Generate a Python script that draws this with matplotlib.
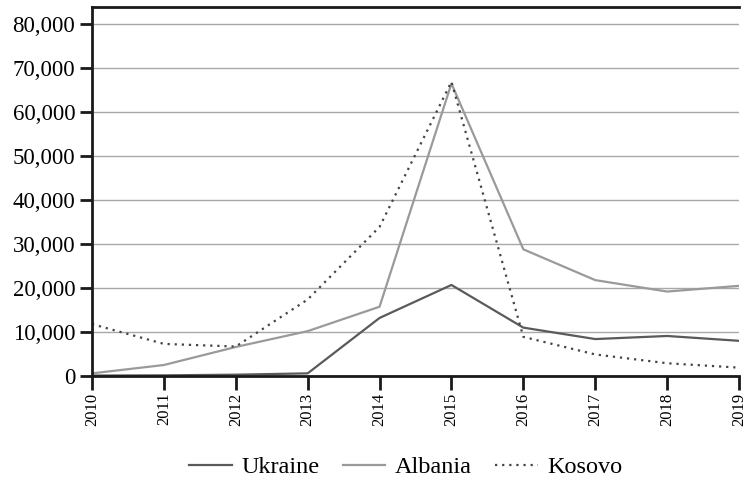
import numpy as np
import matplotlib.pyplot as plt
from matplotlib.ticker import FuncFormatter

years = [2010, 2011, 2012, 2013, 2014, 2015, 2016, 2017, 2018, 2019]
ukraine = [100, 150, 300, 600, 13200, 20700, 11000, 8400, 9100, 8000]
albania = [600, 2500, 6600, 10200, 15750, 66500, 28800, 21800, 19200, 20500]
kosovo = [11800, 7300, 6700, 17400, 33900, 66900, 8900, 4900, 2900, 1900]

plt.rcParams['font.family'] = ['Liberation Serif', 'DejaVu Serif']

fig = plt.figure(figsize=(7.49, 4.78), dpi=100)
ax = fig.add_axes([92 / 749, 1 - 376 / 478, 647 / 749, 369 / 478])

ax.plot(years, ukraine, color='#5a5a5a', lw=1.6, label='Ukraine')
ax.plot(years, albania, color='#9a9a9a', lw=1.6, label='Albania')
ax.plot(years, kosovo, color='#444444', lw=1.6, ls=(0, (1, 2.2)), label='Kosovo')

ax.set_xlim(2010, 2019)
ax.set_ylim(0, 83900)
ax.set_yticks(np.arange(0, 80001, 10000))
ax.yaxis.set_major_formatter(FuncFormatter(lambda v, p: f'{int(v):,}'))
ax.set_xticks(years)
ax.set_xticklabels([str(y) for y in years], rotation=90, fontsize=12)
ax.tick_params(axis='y', labelsize=16.5, length=9, width=2, color='#1a1a1a', pad=3)
ax.tick_params(axis='x', length=10, width=2, color='#1a1a1a', pad=2)

ax.grid(axis='y', color='#a8a8a8', lw=1)
ax.set_axisbelow(True)
for s in ['left', 'top', 'bottom']:
    ax.spines[s].set_linewidth(2)
    ax.spines[s].set_color('#1a1a1a')
ax.spines['right'].set_visible(False)

fig.legend(loc='center', bbox_to_anchor=(406 / 749, 1 - 467 / 478), ncol=3,
           frameon=False, fontsize=17.5, handlelength=1.75, handletextpad=0.4,
           columnspacing=0.95)

fig.savefig('out.png', dpi=100)
